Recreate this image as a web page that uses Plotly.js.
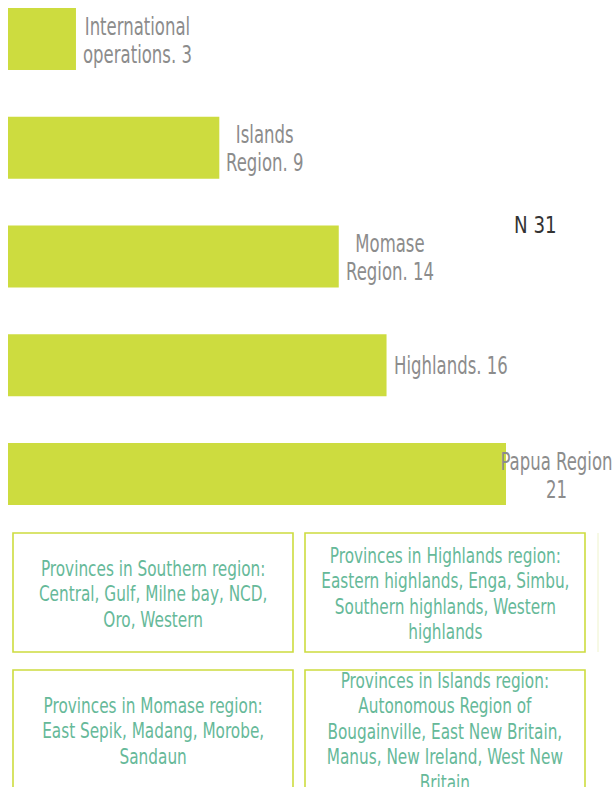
<!DOCTYPE html>
<html><head><meta charset="utf-8">
<script src="https://cdn.plot.ly/plotly-3.0.1.min.js"></script>
<style>html,body{margin:0;padding:0;background:#fff}#chart{width:612px;height:787px}</style>
</head><body><div id="chart"></div>
<script>
// ---- data ----
const categories = ["International operations", "Islands Region", "Momase Region", "Highlands", "Papua Region"];
const values = [3, 9, 14, 16, 21];
const barLabels = ["International<br>operations. 3", "Islands<br>Region. 9", "Momase<br>Region. 14", "Highlands. 16", "Papua Region<br>21"];
const totalLabel = "N 31";
const boxTexts = [
  "Provinces in Southern region:<br>Central, Gulf, Milne bay, NCD,<br>Oro, Western",
  "Provinces in Highlands region:<br>Eastern highlands, Enga, Simbu,<br>Southern highlands, Western<br>highlands",
  "Provinces in Momase region:<br>East Sepik, Madang, Morobe,<br>Sandaun",
  "Provinces in Islands region:<br>Autonomous Region of<br>Bougainville, East New Britain,<br>Manus, New Ireland, West New<br>Britain"
];

// ---- layout constants (pixels) ----
const W = 612, H = 787;
const FONT = "DejaVu Sans Condensed, Liberation Sans Narrow, sans-serif";
const LIME = "#cddc3f";
const plotLeft = 8;               // left edge of the plotting area
const zeroPx = 4.3, pxPerUnit = 23.89;
const firstBarCenter = 39, bandPx = 108.75;
const plotW = W - plotLeft;
const px = v => (v - plotLeft) / plotW;
const py = v => 1 - v / H;

const boxes = [
  [13, 293, 533, 652], [305, 585, 533, 652],
  [13, 293, 670, 789], [305, 585, 670, 789]
];

// text styling: size, horizontal condense factor, line spacing (px)
const LABEL = {size: 24, sx: 0.765, lh: 28, color: "#8c8c8c"};
const TOTAL = {size: 23, sx: 0.88, lh: 28, color: "#333333"};
const BOX = {size: 21, sx: 0.81, lh: 25.5, color: "#66b999"};

const maxV = Math.max(...values);
const annotations = [];
const post = []; // per-annotation: anchor + style for condensing
categories.forEach((c, i) => {
  const font = {family: FONT, size: LABEL.size, color: LABEL.color};
  if (values[i] === maxV) {
    annotations.push({xref: "paper", yref: "y", x: 1, y: c, xanchor: "right", yanchor: "middle",
      xshift: 2, yshift: -1, text: barLabels[i], showarrow: false, align: "center", font: font});
    post.push({anchor: "right", st: LABEL});
  } else {
    annotations.push({xref: "x", yref: "y", x: values[i], y: c, xanchor: "left", yanchor: "middle",
      xshift: 5, yshift: -1, text: barLabels[i], showarrow: false, align: "center", font: font});
    post.push({anchor: "left", st: LABEL});
  }
});
annotations.push({xref: "paper", yref: "paper", x: px(512), y: py(225), xanchor: "left", yanchor: "middle",
  text: totalLabel, showarrow: false, font: {family: FONT, size: TOTAL.size, color: TOTAL.color}});
post.push({anchor: "left", st: TOTAL});

const shapes = [];
boxes.forEach((b, i) => {
  shapes.push({type: "rect", xref: "paper", yref: "paper", x0: px(b[0]), x1: px(b[1]), y0: py(b[2]), y1: py(b[3]),
    line: {color: LIME, width: 1.6}, fillcolor: "rgba(0,0,0,0)"});
  annotations.push({xref: "paper", yref: "paper", x: px((b[0] + b[1]) / 2), y: py((b[2] + b[3]) / 2),
    xanchor: "center", yanchor: "middle", yshift: -1.5, text: boxTexts[i], showarrow: false, align: "center",
    font: {family: FONT, size: BOX.size, color: BOX.color}});
  post.push({anchor: "center", st: BOX});
});
shapes.push({type: "line", xref: "paper", yref: "paper", x0: px(598), x1: px(598), y0: py(533), y1: py(652),
  line: {color: "#eef3cc", width: 1}});

const trace = {
  type: "bar", orientation: "h", x: values, y: categories,
  width: 0.57, marker: {color: LIME, line: {width: 0}},
  hoverinfo: "skip"
};

const layout = {
  width: W, height: H,
  margin: {l: plotLeft, r: 0, t: 0, b: 0, pad: 0},
  paper_bgcolor: "#ffffff", plot_bgcolor: "#ffffff",
  showlegend: false,
  xaxis: {range: [(plotLeft - zeroPx) / pxPerUnit, (W - zeroPx) / pxPerUnit], visible: false, fixedrange: true},
  yaxis: {type: "category", range: [(H - firstBarCenter) / bandPx, -firstBarCenter / bandPx],
    visible: false, fixedrange: true},
  annotations: annotations,
  shapes: shapes
};

Plotly.newPlot("chart", [trace], layout, {displayModeBar: false, staticPlot: true}).then(gd => {
  // condense the text horizontally and tighten line spacing (the reference uses a condensed face)
  gd.querySelectorAll(".annotation").forEach(g => {
    const idx = +g.getAttribute("data-index");
    const p = post[idx];
    const t = g.querySelector("text.annotation-text");
    if (!p || !t) return;
    const bb0 = t.getBBox();
    const ratio = p.st.lh / p.st.size;
    t.querySelectorAll("tspan.line").forEach(ts => {
      const dy = ts.getAttribute("dy");
      if (dy) {
        const n = parseFloat(dy) / 1.3;
        ts.setAttribute("dy", (n * ratio) + "em");
      }
    });
    const bb1 = t.getBBox();
    const dyShift = (bb0.y + bb0.height / 2) - (bb1.y + bb1.height / 2);
    let ax = bb1.x + bb1.width / 2;
    if (p.anchor === "left") ax = bb1.x;
    if (p.anchor === "right") ax = bb1.x + bb1.width;
    const prev = t.getAttribute("transform") || "";
    t.setAttribute("transform", (prev + " translate(" + ax + "," + dyShift + ") scale(" + p.st.sx + ",1) translate(" + (-ax) + ",0)").trim());
  });
});
</script>
</body></html>
